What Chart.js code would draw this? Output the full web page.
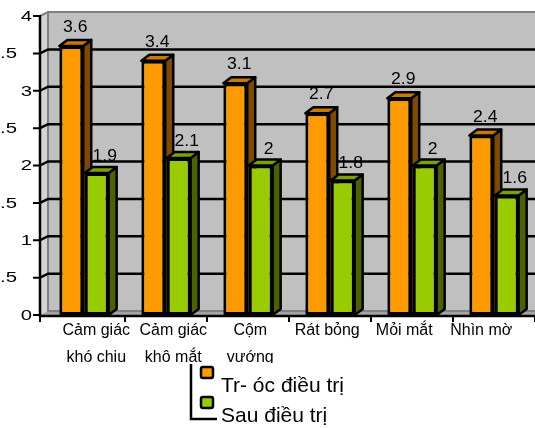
<!DOCTYPE html>
<html>
<head>
<meta charset="utf-8">
<script src="https://cdn.jsdelivr.net/npm/chart.js@4.4.1/dist/chart.umd.min.js"></script>
<style>
  html, body { margin: 0; padding: 0; background: #fff; overflow: hidden; }
  canvas { display: block; }
</style>
</head>
<body>
<canvas id="chart" width="535" height="428"></canvas>
<script>
const categories = [
  ["Cảm giác", "khó chịu"],
  ["Cảm giác", "khô mắt"],
  ["Cộm", "vướng"],
  "Rát bỏng",
  "Mỏi mắt",
  "Nhìn mờ",
];
const seriesNames = ["Tr- óc điều trị", "Sau điều trị"];
const beforeValues = [3.6, 3.4, 3.1, 2.7, 2.9, 2.4];
const afterValues = [1.9, 2.1, 2, 1.8, 2, 1.6];
const yMax = 4;
const yStep = 0.5;

const FONT = "'Liberation Sans', Arial, sans-serif";
const WALL_DX = 8, WALL_DY = -4; // depth of the back wall
const BAR_DX = 8, BAR_DY = -6;   // depth of each bar

// front / top / side colours per series
const faces = [
  { front: "#FF9900", top: "#C97800", side: "#7F4A00", labelDx: 4, labelDy: -8 },
  { front: "#99CC00", top: "#7AA300", side: "#4A6300", labelDx: 8, labelDy: -6 },
];

function poly(ctx, pts) {
  ctx.beginPath();
  ctx.moveTo(pts[0][0], pts[0][1]);
  for (let i = 1; i < pts.length; i++) ctx.lineTo(pts[i][0], pts[i][1]);
  ctx.closePath();
}

// stretched text like the old office chart renderer
function wideText(ctx, text, x, y, align, stretch) {
  ctx.save();
  ctx.translate(x, y);
  ctx.scale(stretch, 1);
  ctx.textAlign = align;
  ctx.fillText(text, 0, 0);
  ctx.restore();
}

const wallPlugin = {
  id: "wall3d",
  beforeDraw(chart) {
    const { ctx, chartArea: a, scales: { x, y } } = chart;
    const ax = a.left - 3; // where the value axis sits
    const bx = ax + WALL_DX;
    const top = a.top, bot = a.bottom;

    ctx.save();
    ctx.fillStyle = "#fff";
    ctx.fillRect(0, 0, chart.width, chart.height);

    // back wall
    ctx.fillStyle = "#C0C0C0";
    ctx.fillRect(bx, top + WALL_DY, a.right - bx, bot - top);
    // side wall
    ctx.fillStyle = "#D4D4D4";
    poly(ctx, [[ax, top], [bx, top + WALL_DY], [bx, bot + WALL_DY], [ax, bot]]);
    ctx.fill();
    // floor
    ctx.fillStyle = "#A4A4A4";
    poly(ctx, [[ax, bot], [bx, bot + WALL_DY], [a.right, bot + WALL_DY], [a.right, bot]]);
    ctx.fill();

    // wall edges
    ctx.strokeStyle = "#808080";
    ctx.lineWidth = 2;
    ctx.beginPath();
    ctx.moveTo(ax, top);
    ctx.lineTo(bx, top + WALL_DY);
    ctx.lineTo(a.right, top + WALL_DY);
    ctx.moveTo(bx, top + WALL_DY);
    ctx.lineTo(bx, bot + WALL_DY);
    ctx.lineTo(a.right, bot + WALL_DY);
    ctx.stroke();

    // gridlines running over side wall and back wall
    ctx.strokeStyle = "#000";
    ctx.lineWidth = 2.5;
    y.ticks.forEach((t) => {
      if (t.value <= 0 || t.value >= yMax) return;
      const py = y.getPixelForValue(t.value);
      ctx.beginPath();
      ctx.moveTo(ax, py);
      ctx.lineTo(bx, py + WALL_DY);
      ctx.lineTo(a.right, py + WALL_DY);
      ctx.stroke();
    });

    // axes
    ctx.lineWidth = 2.5;
    ctx.beginPath();
    ctx.moveTo(ax, top - 1);
    ctx.lineTo(ax, bot + 2);
    ctx.moveTo(ax, bot + 1);
    ctx.lineTo(a.right, bot + 1);
    ctx.stroke();

    ctx.lineWidth = 2;
    ctx.beginPath();
    y.ticks.forEach((t) => {
      const py = y.getPixelForValue(t.value);
      ctx.moveTo(ax - 7, py);
      ctx.lineTo(ax, py);
    });
    for (let i = 0; i <= categories.length; i++) {
      const px = i === 0 ? ax : x.getPixelForValue(i - 0.5);
      ctx.moveTo(px, bot + 1);
      ctx.lineTo(px, bot + 7);
    }
    ctx.stroke();

    // value axis labels
    ctx.fillStyle = "#000";
    ctx.font = "14px " + FONT;
    ctx.textBaseline = "middle";
    y.ticks.forEach((t) => {
      const py = y.getPixelForValue(t.value) + 1;
      const whole = t.value % 1 === 0;
      wideText(ctx, String(t.value), whole ? ax - 8 : ax - 23, py, "right", 1.45);
    });
    ctx.restore();
  },

  beforeDatasetsDraw(chart) {
    const { ctx } = chart;
    ctx.save();
    ctx.strokeStyle = "#000";
    ctx.lineWidth = 2.5;
    ctx.lineJoin = "round";
    chart.data.datasets.forEach((ds, di) => {
      const f = faces[di];
      chart.getDatasetMeta(di).data.forEach((bar) => {
        const l = bar.x - bar.width / 2;
        const r = bar.x + bar.width / 2;
        ctx.fillStyle = f.side;
        poly(ctx, [[r, bar.y], [r + BAR_DX, bar.y + BAR_DY], [r + BAR_DX, bar.base + BAR_DY], [r, bar.base]]);
        ctx.fill();
        ctx.stroke();
        ctx.fillStyle = f.top;
        poly(ctx, [[l, bar.y], [l + BAR_DX, bar.y + BAR_DY], [r + BAR_DX, bar.y + BAR_DY], [r, bar.y]]);
        ctx.fill();
        ctx.stroke();
      });
    });
    ctx.restore();
  },

  afterDatasetsDraw(chart) {
    const { ctx } = chart;
    ctx.save();
    ctx.fillStyle = "#000";
    ctx.font = "16px " + FONT;
    ctx.textBaseline = "alphabetic";
    chart.data.datasets.forEach((ds, di) => {
      const f = faces[di];
      chart.getDatasetMeta(di).data.forEach((bar, i) => {
        wideText(ctx, String(ds.data[i]), bar.x + f.labelDx, bar.y + BAR_DY + f.labelDy, "center", 1.1);
      });
    });
    ctx.restore();
  },

  afterDraw(chart) {
    const { ctx } = chart;
    ctx.save();
    // the legend box hides the lower half of the category labels
    ctx.fillStyle = "#fff";
    ctx.fillRect(0, 363, chart.width, chart.height - 363);

    ctx.strokeStyle = "#000";
    ctx.lineWidth = 2.5;
    ctx.beginPath();
    ctx.moveTo(191, 364);
    ctx.lineTo(191, 419);
    ctx.lineTo(217, 419);
    ctx.stroke();

    ctx.font = "21px " + FONT;
    ctx.textBaseline = "middle";
    ctx.textAlign = "left";
    chart.data.datasets.forEach((ds, di) => {
      const sy = 367 + di * 30;
      ctx.fillStyle = ds.backgroundColor;
      ctx.lineWidth = 2.5;
      ctx.beginPath();
      ctx.roundRect(201, sy, 12, 11, 2);
      ctx.fill();
      ctx.stroke();
      ctx.fillStyle = "#000";
      ctx.fillText(ds.label, 221, sy + 19);
    });
    ctx.restore();
  },
};

new Chart(document.getElementById("chart"), {
  type: "bar",
  data: {
    labels: categories,
    datasets: [
      {
        label: seriesNames[0],
        data: beforeValues,
        backgroundColor: faces[0].front,
        borderColor: "#000",
        borderWidth: 3,
        borderSkipped: false,
      },
      {
        label: seriesNames[1],
        data: afterValues,
        backgroundColor: faces[1].front,
        borderColor: "#000",
        borderWidth: 3,
        borderSkipped: false,
      },
    ],
  },
  options: {
    responsive: false,
    animation: false,
    layout: { padding: { top: 16, left: 0, right: 0, bottom: 0 } },
    datasets: { bar: { categoryPercentage: 0.62, barPercentage: 0.94 } },
    plugins: {
      legend: { display: false },
      tooltip: { enabled: false },
    },
    scales: {
      x: { display: false },
      // category names sit a bit off the bar groups, as in the original
      names: {
        type: "linear",
        position: "bottom",
        offset: false,
        min: -0.692,
        max: 5.698,
        grid: { display: false, drawTicks: false },
        border: { display: false },
        afterBuildTicks: (s) => {
          s.ticks = categories.map((c, i) => ({ value: i }));
        },
        ticks: {
          color: "#000",
          font: { family: FONT, size: 16, lineHeight: 1.7 },
          padding: 2,
          maxRotation: 0,
          autoSkip: false,
          callback: (v) => categories[v],
        },
        afterFit: (s) => { s.height = 113; },
      },
      y: {
        min: 0,
        max: yMax,
        grid: { display: false },
        border: { display: false },
        ticks: { display: false, stepSize: yStep },
        afterFit: (s) => { s.width = 43; },
      },
    },
  },
  plugins: [wallPlugin],
});
</script>
</body>
</html>
